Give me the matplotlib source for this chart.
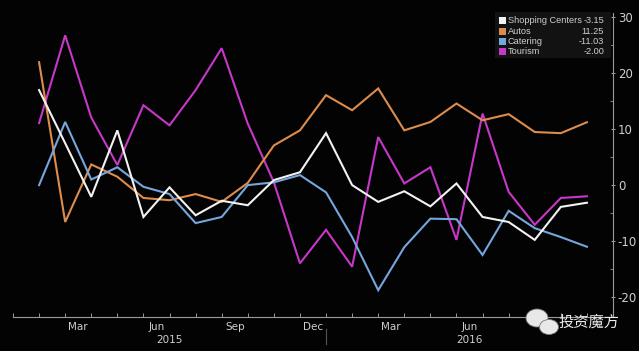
import matplotlib
matplotlib.use("Agg")
import matplotlib.pyplot as plt
from matplotlib.patches import Ellipse
import numpy as np

# month index: 0 = start of Jan 2015, points Feb 2015 .. Nov 2016
months = np.arange(1, 23)
shopping = [17, 7.5, -2.1, 9.8, -5.7, -0.4, -5.4, -2.8, -3.6, 0.9, 2.3, 9.3,
            0, -3.0, -1.1, -3.8, 0.3, -5.7, -6.6, -9.8, -3.9, -3.15]
autos = [22, -6.6, 3.7, 1.5, -2.3, -2.7, -1.6, -3.0, 0.4, 7.1, 9.8, 16.1,
         13.4, 17.3, 9.8, 11.3, 14.6, 11.6, 12.7, 9.5, 9.3, 11.25]
catering = [0, 11.3, 1.0, 3.2, -0.3, -1.6, -6.8, -5.7, 0, 0.5, 1.8, -1.3,
            -9.3, -18.8, -11.1, -6.0, -6.1, -12.5, -4.6, -7.7, -9.3, -11.03]
tourism = [11.1, 26.8, 12.1, 3.6, 14.3, 10.7, 17.0, 24.5, 11.0, 0.5, -14.0, -8.0,
           -14.6, 8.6, 0.3, 3.2, -9.8, 12.8, -1.2, -7.1, -2.3, -2.0]

names = ["Shopping Centers", "Autos", "Catering", "Tourism"]
last_vals = ["-3.15", "11.25", "-11.03", "-2.00"]
colors = ["#f2f2f2", "#dd8c4c", "#75a6de", "#c837c8"]

month_labels = ["Mar", "Jun", "Sep", "Dec", "Mar", "Jun", "Sep"]
month_label_pos = [2.5, 5.5, 8.5, 11.5, 14.5, 17.5, 20.5]
years = ["2015", "2016"]
year_pos = [6.0, 17.5]
yticks = [30, 20, 10, 0, -10, -20]

txt = "#cfcfcf"
axc = "#9a9a9a"

fig = plt.figure(figsize=(6.39, 3.51), dpi=100, facecolor="#030303")
ax = fig.add_axes([13 / 639, 34 / 351, 600 / 639, 304 / 351])
ax.set_facecolor("#030303")

series = [shopping, autos, catering, tourism]
# draw order: tourism behind, shopping on top
for i in [3, 1, 2, 0]:
    ax.plot(months, series[i], color=colors[i], lw=1.5, solid_joinstyle="miter")

ax.set_xlim(0, 23)
ax.set_ylim(-23.6, 30.8)

for s in ["top", "left"]:
    ax.spines[s].set_visible(False)
for s in ["bottom", "right"]:
    ax.spines[s].set_color(axc)
    ax.spines[s].set_linewidth(0.8)

ax.yaxis.tick_right()
ax.set_yticks(yticks)
ax.set_yticklabels([str(v) for v in yticks])
ax.set_yticks([25, 15, 5, -5, -15], minor=True)
ax.tick_params(axis="y", which="major", colors=axc, labelcolor=txt, labelsize=8.5,
               length=3, width=0.8, direction="inout", pad=2)
ax.tick_params(axis="y", which="minor", colors=axc, length=2, width=0.6, direction="in")

ax.set_xticks(np.arange(0, 24), minor=True)
ax.set_xticks([])
ax.tick_params(axis="x", which="minor", colors=axc, length=3, width=0.7, direction="in")

for lab, p in zip(month_labels, month_label_pos):
    ax.text(p, -0.015, lab, transform=ax.get_xaxis_transform(), ha="center", va="top",
            color=txt, fontsize=7.5)
for lab, p in zip(years, year_pos):
    ax.text(p, -0.06, lab, transform=ax.get_xaxis_transform(), ha="center", va="top",
            color=txt, fontsize=7.5)
# year separator
ax.plot([12, 12], [-0.04, -0.09], transform=ax.get_xaxis_transform(), color="#555555",
        lw=0.8, clip_on=False)

# legend box
fig.patches.append(plt.Rectangle((495 / 639, 1 - 58 / 351), 116 / 639, 46 / 351,
                                 transform=fig.transFigure, facecolor="#121212",
                                 edgecolor="none", zorder=5))
row_y = [20.5, 31, 41, 51]
leg_font = ["Liberation Sans", "DejaVu Sans"]
for n, v, c, y in zip(names, last_vals, colors, row_y):
    yy = 1 - y / 351
    fig.patches.append(plt.Rectangle((499 / 639, yy - 3.5 / 351), 7 / 639, 7 / 351,
                                     transform=fig.transFigure, facecolor=c,
                                     edgecolor="none", zorder=6))
    fig.text(508 / 639, yy, n, color=txt, fontsize=6.6, va="center", ha="left",
             family=leg_font, zorder=7)
    fig.text(604 / 639, yy, v, color=txt, fontsize=6.6, va="center", ha="right",
             family=leg_font, zorder=7)

# watermark
for (cx, cy, w, h) in [(537, 318, 22, 18), (549, 327, 19, 15)]:
    fig.patches.append(Ellipse((cx / 639, 1 - cy / 351), w / 639, h / 351,
                               transform=fig.transFigure, facecolor="#e8e8e8",
                               edgecolor="#777777", lw=0.6, zorder=8))
fig.text(558 / 639, 1 - 322 / 351, "投资魔方", color="#ececec", fontsize=11,
         va="center", ha="left", family=["Noto Sans CJK SC", "DejaVu Sans"], zorder=9)

fig.savefig("out.png", dpi=100, facecolor=fig.get_facecolor())
